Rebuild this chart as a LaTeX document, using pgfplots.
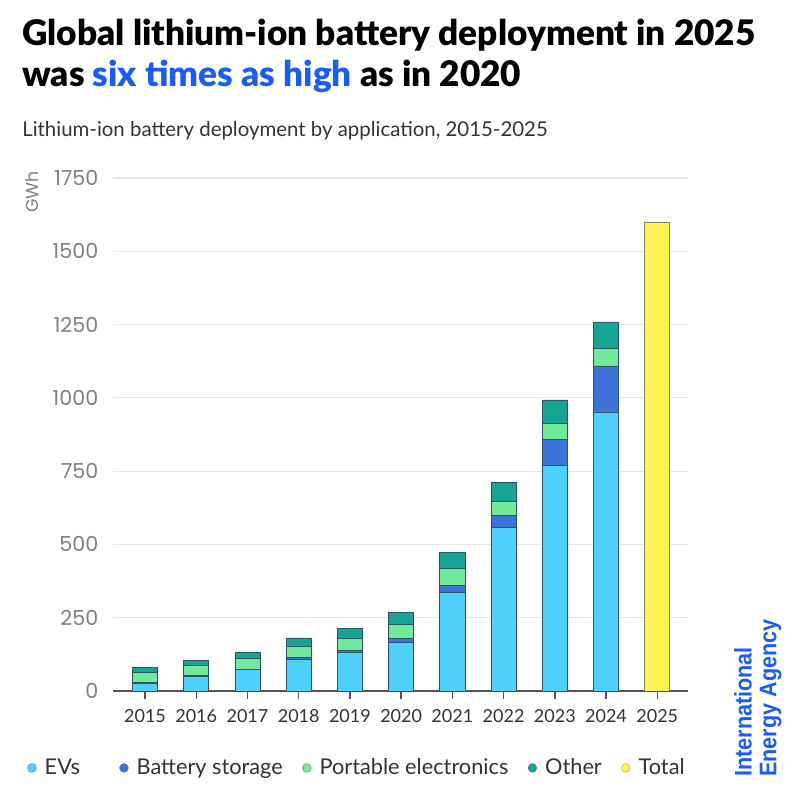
\documentclass[border=0pt]{standalone}
\usepackage{pgfplots}
\usepackage{pgfplotstable}
\pgfplotsset{compat=1.18}
\usepackage{fontspec}
\setmainfont{Lato}
\newfontfamily\tickfont{Poppins}
\newfontfamily\ieafont[FakeStretch=0.9]{Liberation Sans}
\IfFontExistsTF{Lato Black}
  {\newfontfamily\titlefont{Lato Black}}
  {\newfontfamily\titlefont[UprightFont=*-Bold]{Lato}}

\definecolor{evc}{HTML}{4ED0FB}
\definecolor{bsc}{HTML}{3E72D8}
\definecolor{pec}{HTML}{70EA9A}
\definecolor{otc}{HTML}{16A595}
\definecolor{totc}{HTML}{FFF152}
\definecolor{edgec}{HTML}{2F5563}
\definecolor{totedge}{HTML}{8A8560}
\definecolor{ieablue}{HTML}{1C5CF2}
\definecolor{gridc}{HTML}{E9E9E9}
\definecolor{axisc}{HTML}{555555}
\definecolor{labc}{HTML}{333333}
\definecolor{ytc}{HTML}{808080}

% Deployment by application, GWh (x = 0 is 2015)
\pgfplotstableread{
x  ev   bs   pe  ot
0  26   4    33  16
1  50   2    34  17
2  72   3    35  22
3  107  8    38  28
4  131  7    41  34
5  167  13   47  42
6  337  22   59  54
7  559  41   48  63
8  768  90   55  80
9  952  157  60  90
}\deploy

% Total deployment in 2025, GWh
\pgfplotstableread{
x   tot
10  1600
}\total

\pgfplotsset{
  frame/.style={
    scale only axis, width=431.25pt, height=384.75pt,
    at={(84.75pt,73.5pt)}, anchor=south west,
    xmin=-0.625, xmax=10.6, ymin=0, ymax=1750,
    bar width=0.49,
  },
}

\begin{document}
\begin{tikzpicture}
\path[use as bounding box] (0,0) rectangle (597pt,591.75pt);

\begin{axis}[
  frame,
  ybar stacked,
  axis x line*=bottom, axis y line*=left,
  y axis line style={draw=none},
  x axis line style={draw=axisc, line width=1.1pt},
  xtick={0,...,10},
  xticklabels={2015,2016,2017,2018,2019,2020,2021,2022,2023,2024,2025},
  ytick={0,250,...,1750},
  ymajorgrids, grid style={draw=gridc, line width=0.9pt},
  tick align=outside, major tick length=6pt,
  xtick style={draw=axisc, line width=1.1pt},
  ytick style={draw=none},
  /pgf/number format/assume math mode=true,
  /pgf/number format/1000 sep={},
  yticklabel style={font=\tickfont\fontsize{15.5}{18}\selectfont, text=ytc, xshift=-1.5pt},
  xticklabel style={font=\fontsize{13.5}{16}\selectfont, text=labc, yshift=-4.5pt},
  legend style={at={(-0.1496,-0.150)}, anchor=west, draw=none, fill=none,
    inner sep=0pt, font=\fontsize{16.3}{19}\selectfont\color{labc},
    /tikz/every odd column/.append style={column sep=4pt},
    /tikz/every even column/.append style={column sep=12.5pt}},
  legend columns=-1,
  legend image code/.code={\path[#1, line width=0.5pt, draw opacity=0.5] (3.5pt,0) circle (3.3pt);},
  every axis plot/.append style={draw=edgec, line width=0.6pt},
]
\addplot[fill=evc] table[x=x, y=ev]{\deploy};
\addlegendentry{EVs\hspace*{15pt}}
\addplot[fill=bsc] table[x=x, y=bs]{\deploy};
\addlegendentry{Battery storage}
\addplot[fill=pec] table[x=x, y=pe]{\deploy};
\addlegendentry{Portable electronics}
\addplot[fill=otc] table[x=x, y=ot]{\deploy};
\addlegendentry{Other}
\addlegendimage{fill=totc, draw=totedge}
\addlegendentry{Total}
\end{axis}

\begin{axis}[frame, ybar, hide axis]
\addplot[fill=totc, draw=totedge, line width=0.6pt] table[x=x, y=tot]{\total};
\end{axis}

\begin{scope}[x=0.75pt, y=-0.75pt, yshift=591.75pt]
  \node[anchor=base west, inner sep=0, font=\titlefont\fontsize{26.4}{32}\selectfont, text=black]
    at (22,46) {Global lithium-ion battery deployment in 2025};
  \node[anchor=base west, inner sep=0, font=\titlefont\fontsize{26.4}{32}\selectfont, text=black]
    at (22,87) {was \textcolor{ieablue}{six times as high} as in 2020};
  \node[anchor=base west, inner sep=0, font=\fontsize{15.3}{18}\selectfont, text=labc]
    at (22,137) {Lithium-ion battery deployment by application, 2015-2025};
  \node[rotate=90, inner sep=0, font=\tickfont\fontsize{13}{15}\selectfont, text=ytc]
    at (32,192) {GWh};
  \node[rotate=90, anchor=north west, align=left, inner sep=0,
        font=\ieafont\bfseries\fontsize{18}{18.5}\selectfont, text=ieablue]
    at (734,777) {International\\Energy Agency};
\end{scope}
\end{tikzpicture}
\end{document}
